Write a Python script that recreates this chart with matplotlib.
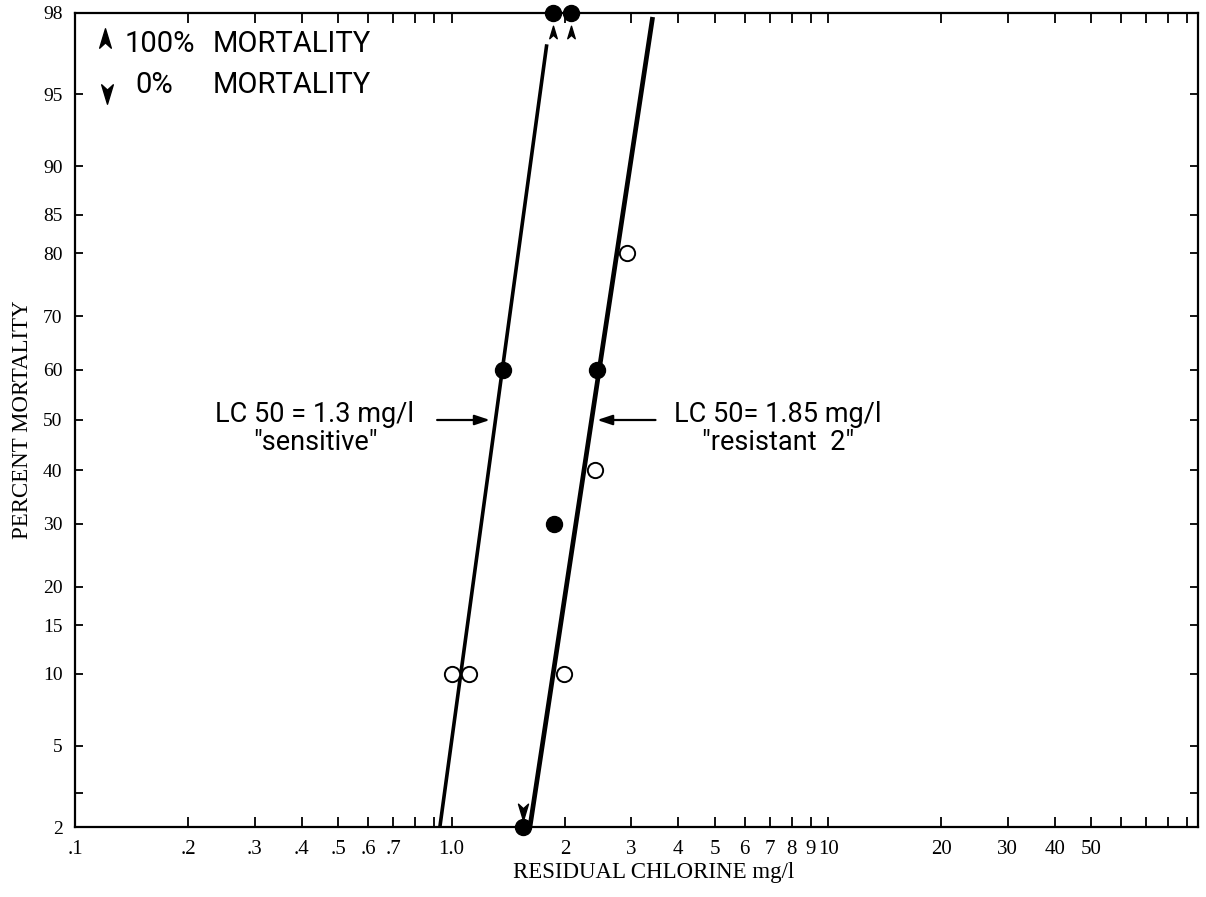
import numpy as np
import matplotlib
matplotlib.use('Agg')
import matplotlib.pyplot as plt
from matplotlib.path import Path
from matplotlib.transforms import offset_copy
from statistics import NormalDist

# Data (concentration in mg/l, mortality in %)
filled_conc = [1.37, 2.43, 1.87]
filled_mort = [60, 60, 30]
open_conc = [1.00, 1.11, 1.99, 2.40, 2.92]
open_mort = [10, 10, 10, 40, 80]
all_dead_conc = [1.86, 2.07]      # 100 % mortality, drawn on the top edge
none_dead_conc = [1.55]           # 0 % mortality, drawn on the bottom edge

sens_line_conc = [0.931, 1.79]
sens_line_mort = [2, 97.1]
res_line_conc = [1.615, 3.42]
res_line_mort = [2, 97.9]

x_ticks = [0.1, 0.2, 0.3, 0.4, 0.5, 0.6, 0.7, 0.8, 0.9, 1, 2, 3, 4, 5, 6, 7, 8, 9, 10,
           20, 30, 40, 50, 60, 70, 80, 90]
x_labels = ['.1', '.2', '.3', '.4', '.5', '.6', '.7', '', '', '1.0', '2', '3', '4', '5',
            '6', '7', '8', '9', '10', '20', '30', '40', '50', '', '', '', '']
y_ticks = [2, 3, 5, 10, 15, 20, 30, 40, 50, 60, 70, 80, 85, 90, 95, 98]
y_labels = ['2', '', '5', '10', '15', '20', '30', '40', '50', '60', '70', '80', '85',
            '90', '95', '98']

ND = NormalDist()


def probit(p):
    p = np.clip(np.asarray(p, dtype=float) / 100.0, 1e-9, 1 - 1e-9)
    return np.vectorize(ND.inv_cdf, otypes=[float])(p)


def unprobit(z):
    return np.vectorize(ND.cdf, otypes=[float])(np.asarray(z, dtype=float)) * 100.0


def x_at_50(conc, mort):
    # position on a fitted line where mortality is 50 %
    lx = np.log10(conc)
    z = probit(mort)
    t = (0 - z[0]) / (z[1] - z[0])
    return 10 ** (lx[0] + t * (lx[1] - lx[0]))


# arrowhead marker
head_up = Path([(0, 1), (0.6, -1), (0, -0.45), (-0.6, -1), (0, 1)],
               [Path.MOVETO, Path.LINETO, Path.LINETO, Path.LINETO, Path.CLOSEPOLY])
head_down = Path([(0, -1), (0.6, 1), (0, 0.45), (-0.6, 1), (0, -1)],
                 [Path.MOVETO, Path.LINETO, Path.LINETO, Path.LINETO, Path.CLOSEPOLY])

serif = 'Liberation Serif'
sans = ['Roboto', 'DejaVu Sans']

fig = plt.figure(figsize=(12.06, 8.97), dpi=100)
ax = fig.add_axes([75 / 1206, 1 - 827 / 897, 1123 / 1206, 814 / 897])
ax.set_xscale('log')
ax.set_yscale('function', functions=(probit, unprobit))
ax.set_xlim(0.1, 96)
ax.set_ylim(2, 98)

# fitted lines
ax.plot(sens_line_conc, sens_line_mort, color='black', lw=2.6, solid_capstyle='butt')
ax.plot(res_line_conc, res_line_mort, color='black', lw=3.4, solid_capstyle='butt')

# observations
ax.plot(filled_conc, filled_mort, 'o', ms=11.5, color='black', clip_on=False)
ax.plot(open_conc, open_mort, 'o', ms=11, mfc='white', mec='black', mew=1.4, clip_on=False)
ax.plot(all_dead_conc, [98] * len(all_dead_conc), 'o', ms=11.5, color='black', clip_on=False, zorder=5)
ax.plot(none_dead_conc, [2] * len(none_dead_conc), 'o', ms=11.5, color='black', clip_on=False, zorder=5)

below = offset_copy(ax.transData, fig=fig, y=-14, units='points')
above = offset_copy(ax.transData, fig=fig, y=11, units='points')
ax.plot(all_dead_conc, [98] * len(all_dead_conc), marker=head_up, ms=9, ls='none',
        color='black', transform=below, clip_on=False)
ax.plot(none_dead_conc, [2] * len(none_dead_conc), marker=head_down, ms=12, ls='none',
        color='black', transform=above, clip_on=False)

# LC50 annotations
arrow = dict(arrowstyle='-|>,head_length=0.9,head_width=0.3', color='black', lw=1.6,
             shrinkA=0, shrinkB=4)
lc_sens = x_at_50(sens_line_conc, sens_line_mort)
lc_res = x_at_50(res_line_conc, res_line_mort)
ax.annotate('', xy=(lc_sens, 50), xytext=(-42, 0), textcoords='offset points', arrowprops=arrow)
ax.annotate('', xy=(lc_res, 50), xytext=(46, 0), textcoords='offset points', arrowprops=arrow)
ax.annotate('LC 50 = 1.3 mg/l\n"sensitive"', xy=(lc_sens, 50), xytext=(-130, -6),
            textcoords='offset points', ha='center', va='center', multialignment='center',
            fontsize=19.5, family=sans, linespacing=1.05)
ax.annotate('LC 50= 1.85 mg/l\n"resistant  2"', xy=(lc_res, 50), xytext=(134, -6),
            textcoords='offset points', ha='center', va='center', multialignment='center',
            fontsize=19.5, family=sans, linespacing=1.05)

# key
ax.plot([0.0267], [0.9693], marker=head_up, ms=14, color='black', transform=ax.transAxes)
ax.plot([0.0285], [0.9005], marker=head_down, ms=14, color='black', transform=ax.transAxes)
ax.text(0.0445, 0.9625, '100%', transform=ax.transAxes, fontsize=21, family=sans, va='center')
ax.text(0.0534, 0.911, '0%', transform=ax.transAxes, fontsize=21, family=sans, va='center')
ax.text(0.1229, 0.9625, 'MORTALITY', transform=ax.transAxes, fontsize=21, family=sans, va='center')
ax.text(0.1229, 0.911, 'MORTALITY', transform=ax.transAxes, fontsize=21, family=sans, va='center')

# axes and ticks
ax.set_xticks(x_ticks)
ax.set_xticklabels(x_labels, family=serif, fontsize=15)
ax.xaxis.set_minor_locator(matplotlib.ticker.NullLocator())
ax.set_yticks(y_ticks)
ax.set_yticklabels(y_labels, family=serif, fontsize=14)
ax.yaxis.set_minor_locator(matplotlib.ticker.NullLocator())
ax.tick_params(axis='x', direction='in', top=True, length=7, width=1.3, pad=9)
ax.tick_params(axis='y', direction='in', right=True, length=6, width=1.3, pad=9)
for s in ax.spines.values():
    s.set_linewidth(1.6)

ax.set_xlabel('RESIDUAL CHLORINE mg/l', family=serif, fontsize=16.5)
ax.xaxis.set_label_coords(0.515, -0.043)
ax.set_ylabel('PERCENT MORTALITY', family=serif, fontsize=16.5)
ax.yaxis.set_label_coords(-0.037, 0.5)

fig.savefig('out.png', dpi=100)
